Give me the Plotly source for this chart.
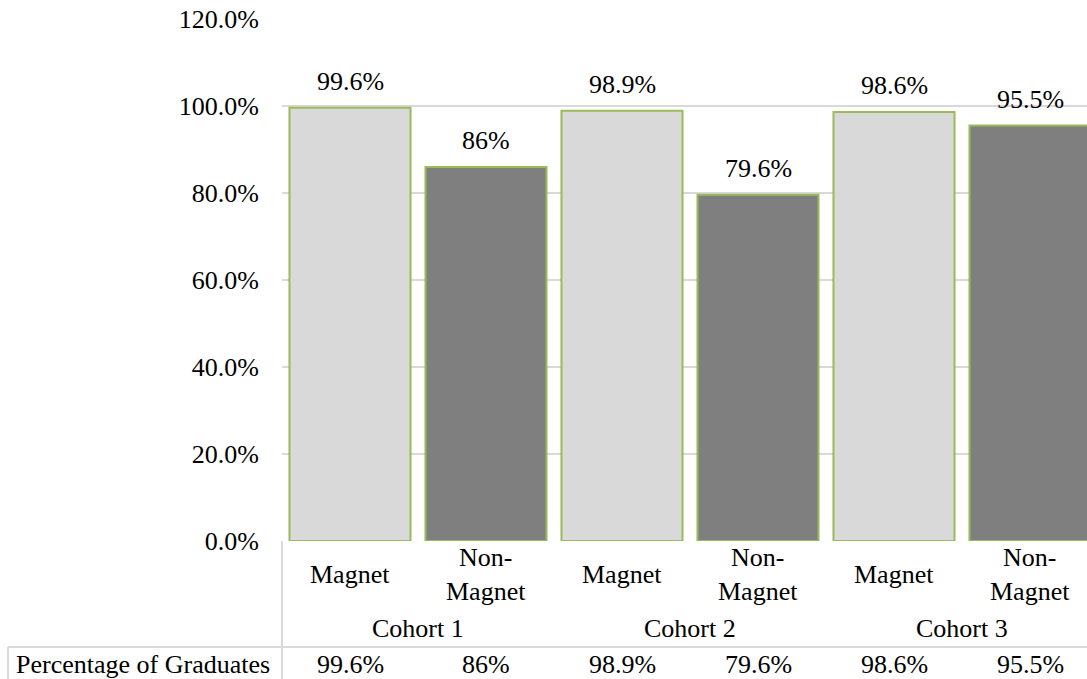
import plotly.graph_objects as go

# Chart data
cohorts = ["Cohort 1", "Cohort 2", "Cohort 3"]
school_types = ["Magnet", "Non-<br>Magnet"]
graduates_pct = [99.6, 86, 98.9, 79.6, 98.6, 95.5]
y_ticks = [0, 20, 40, 60, 80, 100, 120]
row_title = "Percentage of Graduates"

# Figure geometry (pixels)
W, H = 1087, 679
L, R, T, B = 282, 0, 19, 138
plot_w = W - L - R
plot_h = H - T - B
slot = 136  # horizontal space per category

FONT = "Liberation Serif, Times New Roman, DejaVu Serif, serif"
GRID = "#D9D9D9"


def py(ypix):
    """Pixel row -> paper y."""
    return (H - B - ypix) / plot_h


def px(xpix):
    """Pixel column -> paper x."""
    return (xpix - L) / plot_w


def fmt(v):
    return f"{v:g}%"


positions = list(range(len(graduates_pct)))
fills = ["#D9D9D9", "#7F7F7F"] * len(cohorts)

fig = go.Figure(
    go.Bar(
        x=positions,
        y=graduates_pct,
        width=0.89,
        marker=dict(color=fills, line=dict(color="#9BBB59", width=2)),
        hoverinfo="skip",
    )
)

annotations = []
txt = dict(family=FONT, size=26, color="black")

# value labels above bars
for i, v in enumerate(graduates_pct):
    annotations.append(dict(x=i, y=v, xref="x", yref="y", text=fmt(v),
                            showarrow=False, yanchor="bottom", yshift=10, font=txt))

# category row
for i in positions:
    annotations.append(dict(x=i, y=py(574), xref="x", yref="paper",
                            text=school_types[i % 2], showarrow=False,
                            yanchor="middle", font=txt))

# cohort row
for c, name in enumerate(cohorts):
    annotations.append(dict(x=2 * c + 0.5, y=py(628), xref="x", yref="paper",
                            text=name, showarrow=False, yanchor="middle", font=txt))

# data table row
for i, v in enumerate(graduates_pct):
    annotations.append(dict(x=i, y=py(664), xref="x", yref="paper",
                            text=fmt(v), showarrow=False, yanchor="middle", font=txt))
annotations.append(dict(x=px(14), y=py(664), xref="paper", yref="paper",
                        text=row_title, showarrow=False, xanchor="left",
                        yanchor="middle", font=txt))

# table borders
line = dict(color=GRID, width=2)
shapes = [
    dict(type="line", xref="paper", yref="paper", x0=0, x1=0,
         y0=py(541), y1=py(H + 2), line=line),
    dict(type="line", xref="paper", yref="paper", x0=px(8), x1=1,
         y0=py(647), y1=py(647), line=line),
    dict(type="line", xref="paper", yref="paper", x0=px(8), x1=px(8),
         y0=py(647), y1=py(H + 2), line=line),
]

fig.update_layout(
    width=W,
    height=H,
    margin=dict(l=L, r=R, t=T, b=B, pad=0),
    plot_bgcolor="white",
    paper_bgcolor="white",
    showlegend=False,
    annotations=annotations,
    shapes=shapes,
    xaxis=dict(range=[-0.5, -0.5 + plot_w / slot], showticklabels=False,
               showgrid=False, zeroline=False, showline=False, fixedrange=True),
    yaxis=dict(range=[0, 120], tickvals=y_ticks,
               ticktext=[f"{t:.1f}%" for t in y_ticks],
               showgrid=True, gridcolor=GRID, gridwidth=2,
               zeroline=False, showline=False, ticks="",
               ticklabelstandoff=22, tickfont=txt, fixedrange=True),
)

fig.write_html("out.html")
